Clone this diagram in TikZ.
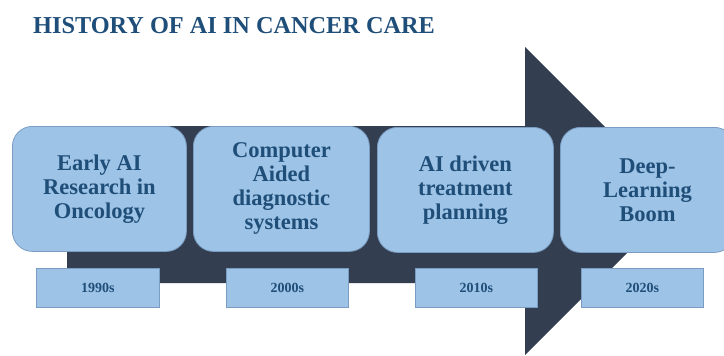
\documentclass[tikz,border=0pt]{standalone}
\usepackage{fontspec}
\setmainfont{Liberation Serif}
\definecolor{arrowdark}{HTML}{333F50}
\definecolor{boxfill}{HTML}{9DC3E6}
\definecolor{boxline}{HTML}{7A9CC2}
\definecolor{txtblue}{HTML}{1F4E79}
\tikzset{
  stagebox/.style={draw=boxline, line width=0.8pt, fill=boxfill, rounded corners=20pt,
    minimum width=174pt, minimum height=125pt, align=center, text=txtblue,
    font=\fontsize{22.5}{24}\selectfont\bfseries, anchor=north west, inner sep=2pt},
  yearbox/.style={draw=boxline, line width=0.8pt, fill=boxfill,
    minimum width=122pt, minimum height=39pt, text=txtblue,
    font=\fontsize{14}{16}\selectfont\bfseries, anchor=north west, inner sep=0pt}
}
\begin{document}
\begin{tikzpicture}[x=1pt,y=-1pt]
\useasboundingbox (0,0) rectangle (724,356);
\node[anchor=base west, text=txtblue, font=\fontsize{24.3}{27}\selectfont\bfseries, inner sep=0pt] (title) at (33,34) {HISTORY OF AI IN CANCER CARE};
\fill[arrowdark] (67,126) -- (525,126) -- (525,47) -- (679,201) -- (525,355) -- (525,283) -- (67,283) -- cycle;
\node[stagebox] (s1) at (12,126) {Early AI\\Research in\\Oncology};
\node[stagebox, minimum width=176pt] (s2) at (193,126) {Computer\\Aided\\diagnostic\\systems};
\node[stagebox, minimum width=176pt] (s3) at (377,127) {AI driven\\treatment\\planning};
\node[stagebox] (s4) at (560,127) {Deep-\\Learning\\Boom};
\node[yearbox, minimum width=123pt] (y1) at (36,268) {1990s};
\node[yearbox] (y2) at (226,268) {2000s};
\node[yearbox] (y3) at (415,268) {2010s};
\node[yearbox] (y4) at (581,268) {2020s};
\end{tikzpicture}
\end{document}
